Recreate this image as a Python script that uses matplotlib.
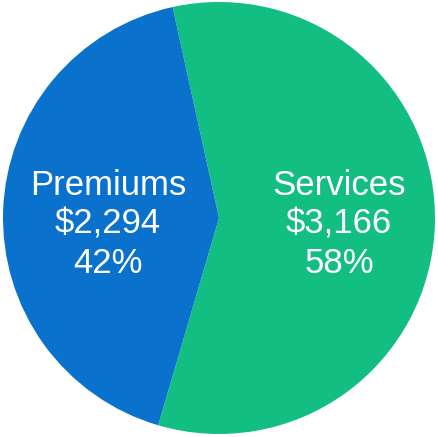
import matplotlib.pyplot as plt

# Revenue split
segments = ['Services', 'Premiums']
amounts = [3166, 2294]
percents = [58, 42]
colors = ['#13BE82', '#0A72CC']

plt.rcParams['font.family'] = ['Liberation Sans', 'DejaVu Sans']

fig = plt.figure(figsize=(4.38, 4.37), dpi=100)
ax = fig.add_axes([0, 0, 1, 1])

labels = [f'{s}\n${a:,}\n{p}%' for s, a, p in zip(segments, amounts, percents)]
wedges, texts = ax.pie(amounts, labels=labels, colors=colors, startangle=102.4,
                       counterclock=False, labeldistance=0.54,
                       wedgeprops=dict(linewidth=0),
                       textprops=dict(color='white', fontsize=25))

# label block centres, tuned to the original
label_xy = [(0.556, -0.03), (-0.514, -0.03)]
for t, xy in zip(texts, label_xy):
    t.set_position(xy)
    t.set_horizontalalignment('center')
    t.set_verticalalignment('center')
    t.set_linespacing(1.22)

r = 216.0
ax.set_xlim(-219 / r, 219 / r)
ax.set_ylim(-219 / r, 218 / r)
ax.set_aspect('auto')
ax.axis('off')

fig.savefig('out.png', dpi=100)
